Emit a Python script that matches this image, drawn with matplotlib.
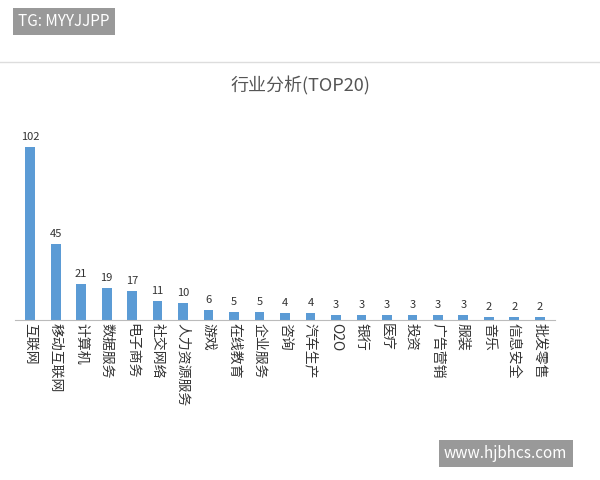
import numpy as np
import matplotlib.pyplot as plt

plt.rcParams['font.family'] = ['Noto Sans CJK SC', 'DejaVu Sans']

industries = ["互联网", "移动互联网", "计算机", "数据服务", "电子商务", "社交网络", "人力资源服务",
              "游戏", "在线教育", "企业服务", "咨询", "汽车生产", "O2O", "银行", "医疗", "投资",
              "广告营销", "服装", "音乐", "信息安全", "批发零售"]
counts = [102, 45, 21, 19, 17, 11, 10, 6, 5, 5, 4, 4, 3, 3, 3, 3, 3, 3, 2, 2, 2]

fig = plt.figure(figsize=(6, 4.8), dpi=100)
ax = fig.add_axes([0.025, 0.333, 0.9, 0.375])
x = np.arange(len(counts))
ax.bar(x, counts, width=0.38, color='#5b9bd5')
for xi, v in zip(x, counts):
    ax.text(xi, v + 3, str(v), ha='center', va='bottom', fontsize=8, color='#333333')
ax.set_xlim(-0.6, len(counts) - 0.4)
ax.set_ylim(0, 106)
ax.set_xticks(x)
ax.set_xticklabels(industries, rotation=-90, fontsize=10, color='#333333')
ax.tick_params(axis='x', length=0, pad=2)
ax.set_yticks([])
for s in ['top', 'right', 'left']:
    ax.spines[s].set_visible(False)
ax.spines['bottom'].set_color('#bbbbbb')

fig.text(0.5, 0.822, "行业分析(TOP20)", ha='center', va='center', fontsize=13, color='#555555')
fig.add_artist(plt.Line2D([0, 1], [0.87, 0.87], color='#dddddd', lw=1))
fig.text(0.03, 0.955, "TG: MYYJJPP", ha='left', va='center', fontsize=11, color='white',
         bbox=dict(facecolor='#999999', edgecolor='none', boxstyle='square,pad=0.35'))
fig.text(0.74, 0.055, "www.hjbhcs.com", ha='left', va='center', fontsize=11, color='white',
         bbox=dict(facecolor='#999999', edgecolor='none', boxstyle='square,pad=0.35'))
fig.savefig("out.png", dpi=100)
